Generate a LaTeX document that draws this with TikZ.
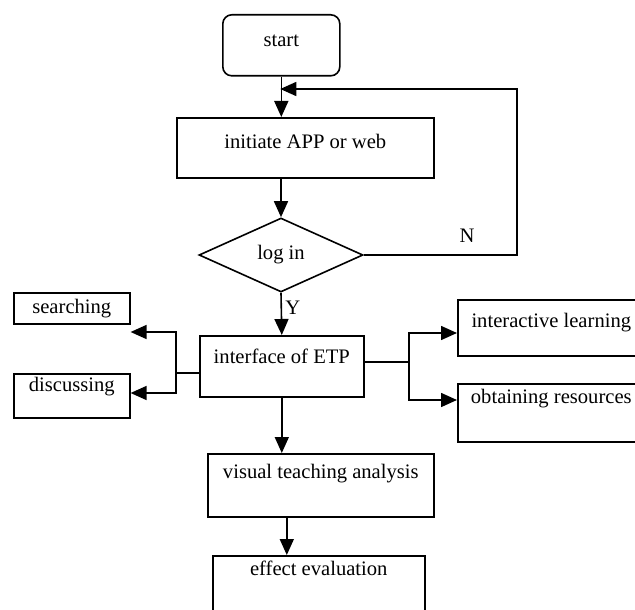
\documentclass[tikz,border=0pt]{standalone}
\usepackage{fontspec}
\setmainfont{Liberation Serif}
\usetikzlibrary{arrows.meta, shapes.geometric, positioning}
\tikzset{
  flow box/.style={
    draw,
    line width=1.6pt,
    inner sep=0pt,
    anchor=north west,
    align=center,
  },
  flow line/.style={line width=1.6pt},
  flow arrow/.style={line width=1.6pt, -{Triangle[length=16pt, width=14pt]}},
}

\begin{document}
\begin{tikzpicture}[x=1pt, y=-1pt, font=\fontsize{20.6}{24}\selectfont]
      \useasboundingbox (0,0) rectangle (635,610);
      \clip (0,0) rectangle (635,610);

      \node[flow box, rounded corners=9pt, minimum width=117pt, text height=32pt, text depth=29pt] (start) at (222,14) {start};
      \node[flow box, minimum width=257pt, text height=31pt, text depth=29pt] (initiate) at (176,117) {initiate APP or web};
      \node[draw, line width=1.6pt, diamond, inner sep=0pt, minimum width=164pt, minimum height=74pt] (login) at (281,255) {log in};
      \node[flow box, minimum width=164pt, text height=28pt, text depth=33pt] (interface) at (199,335) {interface of ETP};
      \node[flow box, minimum width=116pt, text height=21pt, text depth=10pt] (searching) at (13,292) {searching};
      \node[flow box, minimum width=116pt, text height=18pt, text depth=26pt] (discussing) at (13,373) {discussing};
      \node[flow box, minimum width=187pt, text height=28pt, text depth=28pt] (interactive) at (457,299) {interactive learning};
      \node[flow box, minimum width=187pt, text height=20pt, text depth=38pt] (obtaining) at (457,383) {obtaining resources};
      \node[flow box, minimum width=226pt, text height=25pt, text depth=38pt] (visual) at (207,453) {visual teaching analysis};
      \node[flow box, minimum width=212pt, text height=20pt, text depth=60pt] (effect) at (212,555) {effect evaluation};
      \node (no) at (467,236) {N};

      % main line
      \draw[flow arrow] (start.south) -- (start.south |- initiate.north);
      \draw[flow arrow] (initiate.south -| login.north) -- (login.north);
      \draw[flow arrow] (login.south) -- node[right, pos=0.35] {Y} (interface.north);
      \draw[flow arrow] (interface.south) -- (interface.south |- visual.north);
      \draw[flow arrow] ([xshift=-34pt]visual.south) -- ([xshift=-34pt]visual.south |- effect.north);

      % loop back when not logged in
      \coordinate (loop top) at (517,89);
      \draw[flow arrow, shorten >=-1pt] (login.east) -| (loop top) -- (loop top -| start.south);

      % left fork
      \coordinate (left fork) at (176,373);
      \coordinate (left up) at (176,332);
      \coordinate (left down) at (176,393);
      \draw[flow line] (interface.west |- left fork) -- (left fork);
      \draw[flow arrow] (left fork) -- (left up) -- (left up -| searching.east);
      \draw[flow arrow] (left fork) -- (left down) -- (left down -| discussing.east);

      % right fork
      \coordinate (right fork) at (409,362);
      \coordinate (right up) at (409,333);
      \coordinate (right down) at (409,400);
      \draw[flow line] (interface.east |- right fork) -- (right fork);
      \draw[flow arrow] (right fork) -- (right up) -- (right up -| interactive.west);
      \draw[flow arrow] (right fork) -- (right down) -- (right down -| obtaining.west);
    \end{tikzpicture}
\end{document}
